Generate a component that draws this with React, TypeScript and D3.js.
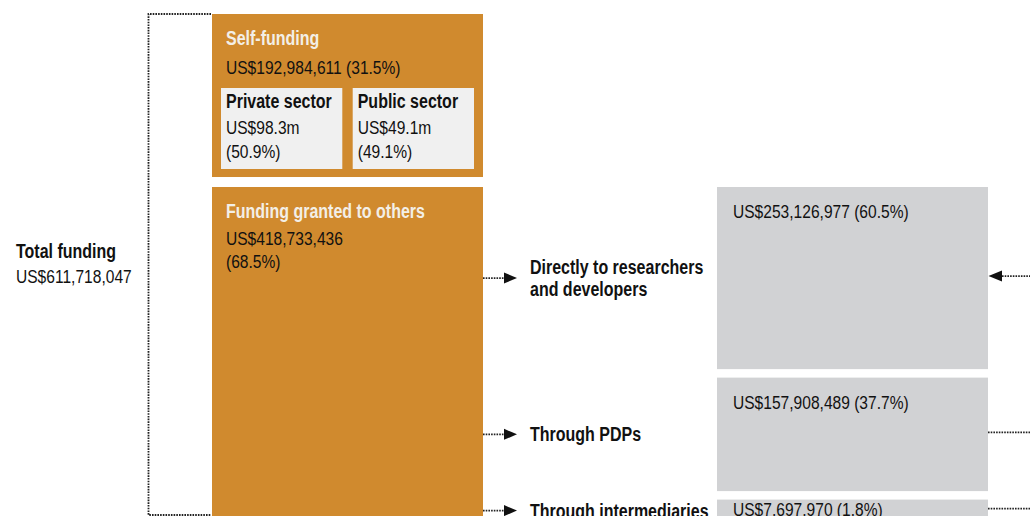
import React from "react";
import * as d3 from "d3";

// ---------- data ----------
const totalLabel = "Total funding";
const totalValue = 611718047;

const fundingTypes = ["Self-funding", "Funding granted to others"];
const fundingValues = [192984611, 418733436];
const fundingPcts = [31.5, 68.5];

const sectorNames = ["Private sector", "Public sector"];
const sectorValues = ["US$98.3m", "US$49.1m"];
const sectorPcts = [50.9, 49.1];

const channelNames = [["Directly to researchers", "and developers"], ["Through PDPs"], ["Through intermediaries"]];
const channelValues = [253126977, 157908489, 7697970];
const channelPcts = [60.5, 37.7, 1.8];

// ---------- styles ----------
const FONT = "'Liberation Sans', Arial, sans-serif";
const NARROW = 0.82;
const ORANGE = "#D08A2E";
const GRAY = "#D1D2D4";
const LIGHT = "#F0F0F0";
const TITLE_LIGHT = "#F3EFE7";
const DOT = "#222";
const DASH = "1.6,1.1";

const fmt = d3.format(",");
const money = (v: number) => `US$${fmt(v)}`;
const pct = (p: number) => `(${p.toFixed(1)}%)`;

function T({ x, y, bold, fill = "#111", size, children }: any) {
  return (
    <text
      transform={`translate(${x},${y}) scale(${NARROW},1)`}
      fontSize={size ?? (bold ? 19.5 : 19)}
      fontWeight={bold ? "bold" : "normal"}
      fill={fill}
    >
      {children}
    </text>
  );
}

export default function App() {
  const W = 1030;
  const H = 516;

  // orange column
  const ox = 212, ow = 271, oTop = 14, oGap = 10;
  const oScale = d3.scaleLinear().domain([0, 100]).range([0, 517.5]);
  const oH = fundingPcts.map((p) => oScale(p));
  const oY = [oTop, oTop + oH[0] + oGap];

  // gray column
  const gx = 717, gw = 271, gGap = 8.5;
  const gScale = d3.scaleLinear().domain([0, 100]).range([0, 301]);
  const gH = channelPcts.map((p) => Math.max(22, gScale(p)));
  const gY: number[] = [];
  let acc = oY[1];
  gH.forEach((h) => {
    gY.push(acc);
    acc += h + gGap;
  });

  // sectors inside self-funding
  const sPad = 9, sGap = 10;
  const sx = d3
    .scaleBand()
    .domain(sectorNames)
    .range([ox + sPad, ox + ow - sPad])
    .paddingInner(sGap / ((ow - 2 * sPad) / 2));
  const sTop = 88, sBottom = 169;

  const textPad = 14;

  return (
    <svg
      width={W}
      height={H}
      style={{ position: "absolute", left: 0, top: 0, fontFamily: FONT }}
    >
      <rect x={0} y={0} width={W} height={H} fill="#fff" />

      {/* bracket */}
      <path
        d={`M${ox - 1},${oTop} H148.5 V${H - 1} H${ox - 1}`}
        fill="none"
        stroke={DOT}
        strokeWidth={1.8}
        strokeDasharray={DASH}
      />

      {/* total */}
      <T x={16} y={258} bold>{totalLabel}</T>
      <T x={16} y={283}>{money(totalValue)}</T>

      {/* orange boxes */}
      {fundingTypes.map((t, i) => (
        <g key={t}>
          <rect x={ox} y={oY[i]} width={ow} height={oH[i]} fill={ORANGE} />
          <T x={ox + textPad} y={oY[i] + 31} bold fill={TITLE_LIGHT}>{t}</T>
        </g>
      ))}
      <T x={ox + textPad} y={oY[0] + 60}>
        {money(fundingValues[0])} {pct(fundingPcts[0])}
      </T>
      <T x={ox + textPad} y={oY[1] + 58}>{money(fundingValues[1])}</T>
      <T x={ox + textPad} y={oY[1] + 81}>{pct(fundingPcts[1])}</T>

      {/* sectors */}
      {sectorNames.map((s, i) => {
        const x = sx(s) as number;
        return (
          <g key={s}>
            <rect x={x} y={sTop} width={sx.bandwidth()} height={sBottom - sTop} fill={LIGHT} />
            <T x={x + 5} y={sTop + 20} bold>{s}</T>
            <T x={x + 5} y={sTop + 46}>{sectorValues[i]}</T>
            <T x={x + 5} y={sTop + 70}>{pct(sectorPcts[i])}</T>
          </g>
        );
      })}

      {/* channels */}
      {channelNames.map((lines, i) => {
        const cy = gY[i] + gH[i] / 2;
        const ry = cy - 2;
        const lineH = 22;
        const firstBase = cy + 7 - ((lines.length - 1) * lineH) / 2;
        return (
          <g key={i}>
            <rect x={gx} y={gY[i]} width={gw} height={gH[i]} fill={GRAY} />
            <T x={gx + 16} y={gY[i] + (gH[i] < 40 ? 16 : 31)}>
              {money(channelValues[i])} {pct(channelPcts[i])}
            </T>
            <line x1={ox + ow} x2={505} y1={cy} y2={cy} stroke={DOT} strokeWidth={1.8} strokeDasharray={DASH} />
            <path d={`M504,${cy - 5.5} L517,${cy} L504,${cy + 5.5} Z`} fill="#111" />
            {lines.map((l, j) => (
              <T key={j} x={530} y={firstBase + j * lineH} bold>{l}</T>
            ))}
            {i === 0 ? (
              <g>
                <line x1={1002} x2={W} y1={ry} y2={ry} stroke={DOT} strokeWidth={1.8} strokeDasharray={DASH} />
                <path d={`M1002,${ry - 5.5} L988.5,${ry} L1002,${ry + 5.5} Z`} fill="#111" />
              </g>
            ) : (
              <line x1={gx + gw} x2={W} y1={ry} y2={ry} stroke={DOT} strokeWidth={1.8} strokeDasharray={DASH} />
            )}
          </g>
        );
      })}
    </svg>
  );
}
